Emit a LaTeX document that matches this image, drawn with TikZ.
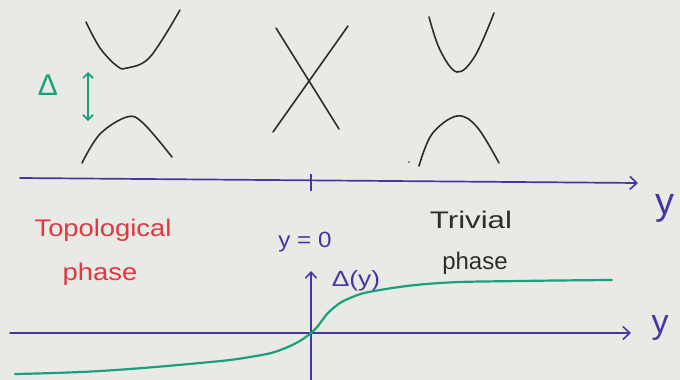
\documentclass[tikz,border=0pt]{standalone}
\usepackage{fontspec}
\usepackage{graphicx}
\setmainfont{Liberation Sans}
\usetikzlibrary{arrows.meta}
\definecolor{paper}{RGB}{233,233,229}
\definecolor{ink}{RGB}{45,45,45}
\definecolor{axisblue}{RGB}{70,55,160}
\definecolor{teal}{RGB}{25,160,125}
\definecolor{redink}{RGB}{225,55,65}
\tikzset{
  band/.style={draw=ink, line width=1.6pt, line cap=round},
  axisline/.style={draw=axisblue, line width=1.7pt, line cap=round},
  tip/.style={-{Straight Barb[length=7pt,width=13pt,line width=1.6pt]}},
  gapcurve/.style={draw=teal, line width=2.2pt, line cap=round},
  lbl/.style={inner sep=0pt, anchor=center}
}
\begin{document}
\begin{tikzpicture}[x=1pt,y=-1pt]
\useasboundingbox[fill=paper] (0,0) rectangle (680,380);
% --- spectra (top) ---
\draw[band] plot[smooth, tension=0.6] coordinates {(86,22) (100,48) (117,66) (127,68) (150,57) (180,10)};
\draw[band] plot[smooth, tension=0.6] coordinates {(82,163) (100,134) (127,117) (143,123) (172,157)};
\draw[band] (276,28) -- (339,129);
\draw[band] (273,132) -- (348,26);
\draw[band] plot[smooth, tension=0.6] coordinates {(429,17) (440,50) (457,72) (475,56) (494,13)};
\draw[band] plot[smooth, tension=0.6] coordinates {(419,166) (432,134) (457,116) (477,127) (499,163)};
\fill[ink] (409,162) circle (0.9pt);
% gap arrow
\coordinate (gt) at (88,72);
\coordinate (gb) at (88,121);
\draw[draw=teal, line width=1.8pt, {Straight Barb[length=5pt,width=10pt,line width=1.6pt]}-{Straight Barb[length=5pt,width=10pt,line width=1.6pt]}] (gt) -- (gb);
\node[lbl, text=teal, font=\fontsize{30}{30}\selectfont] (delta) at (48,85) {Δ};
% --- top axis ---
\coordinate (a1) at (20,178);
\coordinate (a2) at (638,183);
\draw[axisline, tip] (a1) -- (a2);
\coordinate (t1) at (311,174);
\coordinate (t2) at (311,191);
\draw[draw=axisblue, line width=2.6pt] (t1) -- (t2);
\node[lbl, text=axisblue, font=\fontsize{38}{38}\selectfont] (ytop) at (665,208) {y};
% --- labels ---
\node[lbl, text=redink, font=\fontsize{24}{24}\selectfont] (topo) at (103,230) {\scalebox{1.14}[1]{Topological}};
\node[lbl, text=redink, font=\fontsize{24}{24}\selectfont] (ph1) at (100,274) {\scalebox{1.14}[1]{phase}};
\node[lbl, text=axisblue, font=\fontsize{22}{22}\selectfont] (y0) at (305,242) {\scalebox{1.1}[1]{y = 0}};
\node[lbl, text=ink, font=\fontsize{24}{24}\selectfont] (triv) at (471,220) {\scalebox{1.3}[1]{Trivial}};
\node[lbl, text=ink, font=\fontsize{24}{24}\selectfont] (ph2) at (475,263) {phase};
% --- bottom axes ---
\coordinate (b1) at (10,333);
\coordinate (b2) at (631,333);
\draw[axisline, tip] (b1) -- (b2);
\node[lbl, text=axisblue, font=\fontsize{34}{34}\selectfont] (ybot) at (660,328) {y};
\coordinate (v1) at (311,380);
\coordinate (v2) at (311,271);
\draw[axisline, -{Straight Barb[length=6pt,width=11pt,line width=1.6pt]}] (v1) -- (v2);
\node[lbl, text=axisblue, font=\fontsize{22}{22}\selectfont] (dy) at (356,281) {\scalebox{1.2}[1]{Δ(y)}};
% gap profile
\draw[gapcurve] plot[smooth, tension=0.7] coordinates {(15,374) (100,371) (200,363) (250,357) (283,349) (311,333) (330,311) (350,298) (380,290) (440,283) (520,281) (612,280)};
\end{tikzpicture}
\end{document}
